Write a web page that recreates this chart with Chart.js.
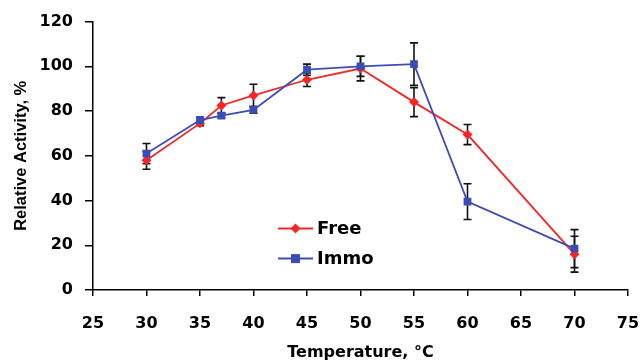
<!DOCTYPE html>
<html lang="en">
<head>
  <meta charset="UTF-8" />
  <title>Relative Activity vs Temperature</title>
  <script src="https://cdn.jsdelivr.net/npm/chart.js"></script>
  <style>
    body { margin: 0; background: #fff; }
    #wrap { width: 640px; height: 364px; }
  </style>
</head>
<body>
  <div id="wrap"><canvas id="actChart" width="640" height="364"></canvas></div>

  <script>
    // data
    const temps = [30, 35, 37, 40, 45, 50, 55, 60, 70];
    const freeAct = [58, 74.5, 82.5, 87, 94, 99, 84, 69.5, 16];
    const freeErr = [4, 1, 3.5, 5, 3, 5.5, 6.5, 4.5, 8];
    const immoAct = [61, 76, 78, 80.5, 98.5, 100, 101, 39.5, 18.5];
    const immoErr = [4.5, 1, 1, 1.5, 2.5, 4.5, 9.5, 8, 8.5];
    const seriesNames = ['Free', 'Immo'];

    const RED = '#f42626';
    const BLUE = '#3b4db3';
    const tickFont = { family: 'DejaVu Sans', size: 16, weight: 'bold' };

    // vertical error bars, drawn under the markers
    const errorBars = {
      id: 'errorBars',
      beforeDatasetsDraw(chart) {
        const ctx = chart.ctx;
        const y = chart.scales.y;
        ctx.save();
        ctx.strokeStyle = '#111';
        ctx.lineWidth = 1.6;
        chart.data.datasets.forEach((ds, i) => {
          const meta = chart.getDatasetMeta(i);
          meta.data.forEach((pt, j) => {
            const v = ds.data[j].y, e = ds.errors[j];
            const top = y.getPixelForValue(v + e);
            const bot = y.getPixelForValue(v - e);
            ctx.beginPath();
            ctx.moveTo(pt.x, top); ctx.lineTo(pt.x, bot);
            ctx.moveTo(pt.x - 4, top); ctx.lineTo(pt.x + 4, top);
            ctx.moveTo(pt.x - 4, bot); ctx.lineTo(pt.x + 4, bot);
            ctx.stroke();
          });
        });
        ctx.restore();
      }
    };

    // legend sits inside the plot, lower middle
    const innerLegend = {
      id: 'innerLegend',
      afterDraw(chart) {
        const ctx = chart.ctx;
        const area = chart.chartArea;
        const x0 = area.left + 185, x1 = x0 + 35;
        const rows = [area.top + 207, area.top + 237];
        ctx.save();
        chart.data.datasets.forEach((ds) => {
          const yy = rows[ds.legendRow];
          ctx.strokeStyle = ds.borderColor;
          ctx.lineWidth = 2;
          ctx.beginPath(); ctx.moveTo(x0, yy); ctx.lineTo(x1, yy); ctx.stroke();
          ctx.fillStyle = ds.borderColor;
          const cx = (x0 + x1) / 2;
          if (ds.pointStyle === 'rect') {
            ctx.fillRect(cx - 4.5, yy - 4.5, 9, 9);
          } else {
            ctx.beginPath();
            ctx.moveTo(cx, yy - 5); ctx.lineTo(cx + 5, yy);
            ctx.lineTo(cx, yy + 5); ctx.lineTo(cx - 5, yy);
            ctx.closePath(); ctx.fill();
          }
          ctx.fillStyle = '#000';
          ctx.font = 'bold 18px "DejaVu Sans"';
          ctx.textBaseline = 'middle';
          ctx.fillText(ds.label, x1 + 4, yy + 1);
        });
        ctx.restore();
      }
    };

    const ctx = document.getElementById('actChart').getContext('2d');
    new Chart(ctx, {
      type: 'line',
      data: {
        datasets: [
          {
            label: seriesNames[0],
            data: temps.map((t, i) => ({ x: t, y: freeAct[i] })),
            errors: freeErr,
            legendRow: 0,
            borderColor: RED,
            backgroundColor: RED,
            borderWidth: 1.8,
            pointStyle: 'rectRot',
            pointRadius: 5,
            pointBorderWidth: 0,
            tension: 0,
            order: 2
          },
          {
            label: seriesNames[1],
            data: temps.map((t, i) => ({ x: t, y: immoAct[i] })),
            errors: immoErr,
            legendRow: 1,
            borderColor: BLUE,
            backgroundColor: BLUE,
            borderWidth: 1.8,
            pointStyle: 'rect',
            pointRadius: 5.5,
            pointBorderWidth: 0,
            tension: 0,
            order: 1
          }
        ]
      },
      options: {
        responsive: false,
        animation: false,
        layout: { padding: { top: 21, right: 0, left: 0, bottom: 0 } },
        plugins: {
          legend: { display: false },
          tooltip: { enabled: false }
        },
        scales: {
          x: {
            type: 'linear',
            min: 25, max: 75,
            ticks: { stepSize: 5, color: '#000', font: tickFont, padding: 18, maxRotation: 0 },
            grid: { drawOnChartArea: false, drawTicks: true, tickLength: 6, color: '#000', lineWidth: 1.5 },
            border: { color: '#000', width: 1.5 },
            title: {
              display: true, text: 'Temperature, °C', color: '#000',
              font: { family: 'DejaVu Sans', size: 16, weight: 'bold' }, padding: 2
            },
            afterFit(scale) {
              scale.height = 74;
              scale.paddingRight = 12;
              scale.paddingLeft = 0;
            }
          },
          y: {
            min: 0, max: 120,
            ticks: { stepSize: 20, color: '#000', font: tickFont, padding: 12 },
            grid: { drawOnChartArea: false, drawTicks: true, tickLength: 8, color: '#000', lineWidth: 1.5 },
            border: { color: '#000', width: 1.5 },
            title: {
              display: true, text: 'Relative Activity, %', color: '#000',
              font: { family: 'Liberation Sans', size: 16.5, weight: 'bold' }, padding: 12
            },
            afterFit(scale) { scale.width = 93; }
          }
        }
      },
      plugins: [errorBars, innerLegend]
    });
  </script>
</body>
</html>
